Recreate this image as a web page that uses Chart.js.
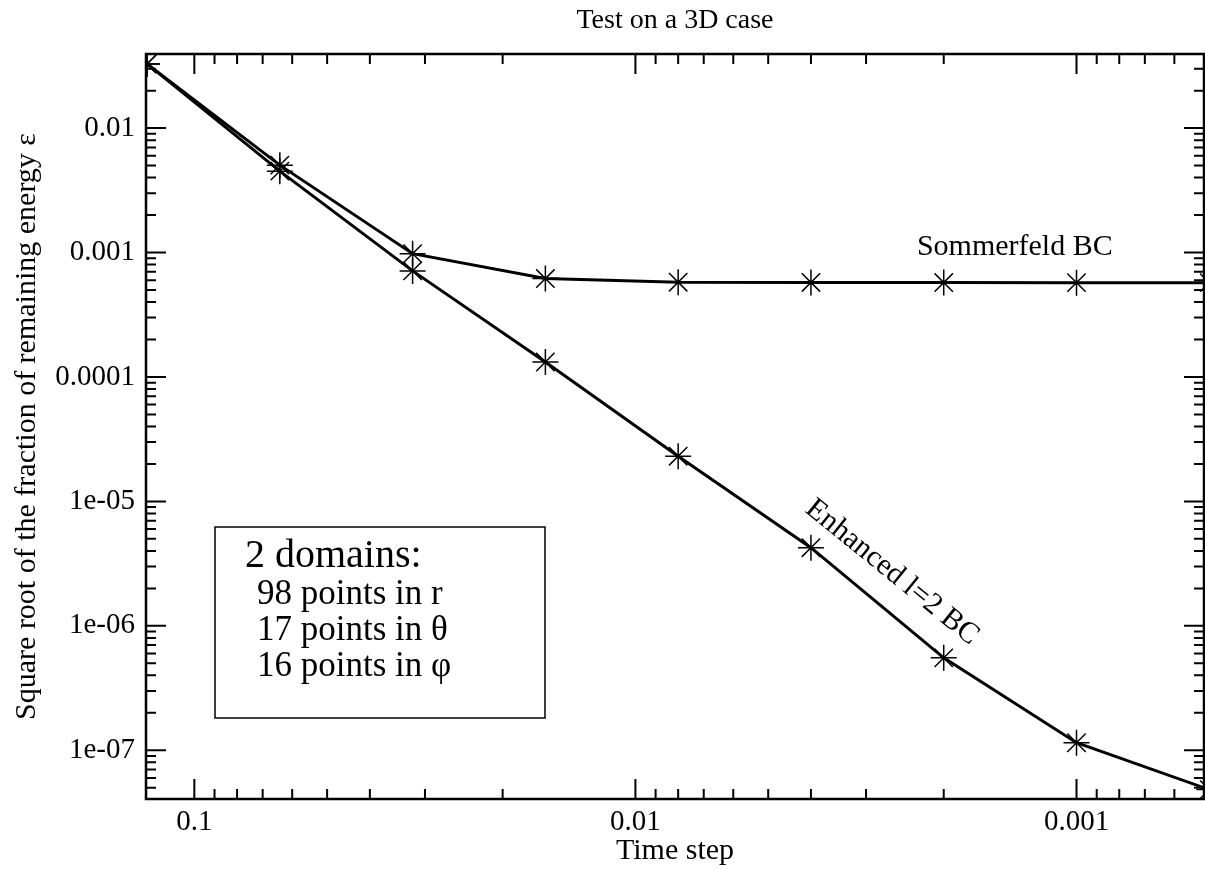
<!DOCTYPE html>
<html>
<head>
<meta charset="utf-8">
<title>Test on a 3D case</title>
<script src="https://cdn.jsdelivr.net/npm/chart.js@4.4.1/dist/chart.umd.min.js"></script>
<style>
  html, body { margin: 0; padding: 0; background: #fff; }
  #wrap { width: 1205px; height: 869px; }
</style>
</head>
<body>
<div id="wrap"><canvas id="chart" width="1205" height="869"></canvas></div>
<script>
// values
const timeSteps = [0.128, 0.064, 0.032, 0.016, 0.008, 0.004, 0.002, 0.001, 0.0005];
const sommerfeld = [0.0328, 0.00504, 0.00098, 0.000618, 0.000578, 0.000575, 0.000574, 0.000573, 0.000573];
const enhanced = [0.0328, 0.00451, 0.000712, 0.000132, 2.31e-5, 4.25e-6, 5.53e-7, 1.15e-7, 4.83e-8];

const xTickLabels = ['0.1', '0.01', '0.001'];
const yTickLabels = ['0.01', '0.001', '0.0001', '1e-05', '1e-06', '1e-07'];
const boxLines = ['2 domains:', '98 points in r', '17 points in θ', '16 points in φ'];

const FONT = '"Liberation Serif", "Times New Roman", serif';
Chart.defaults.font.family = FONT;
Chart.defaults.color = '#000';

function isDecade(v) {
  const l = Math.log10(v);
  return Math.abs(l - Math.round(l)) < 1e-9;
}

// decade + minor tick values between min and max
function logTicks(scale) {
  const out = [];
  const e0 = Math.floor(Math.log10(scale.min));
  const e1 = Math.ceil(Math.log10(scale.max));
  for (let e = e0; e <= e1; e++) {
    for (let k = 1; k <= 9; k++) {
      const v = k * Math.pow(10, e);
      if (v >= scale.min && v <= scale.max) out.push({ value: v });
    }
  }
  scale.ticks = out;
}

function labelFrom(list) {
  return (value) => {
    const hit = list.find(l => Math.abs(Number(l) / value - 1) < 1e-6);
    return hit || '';
  };
}

// inward ticks on all four sides, frame, text box, curve labels
const decorations = {
  id: 'decorations',
  afterDraw(chart) {
    const { ctx, chartArea: a, scales: { x, y } } = chart;
    ctx.save();
    ctx.strokeStyle = '#000';
    ctx.fillStyle = '#000';

    ctx.lineWidth = 2;
    ctx.beginPath();
    x.ticks.forEach(t => {
      const px = x.getPixelForValue(t.value);
      const len = isDecade(t.value) ? 20 : 10;
      ctx.moveTo(px, a.bottom); ctx.lineTo(px, a.bottom - len);
      ctx.moveTo(px, a.top); ctx.lineTo(px, a.top + len);
    });
    y.ticks.forEach(t => {
      const py = y.getPixelForValue(t.value);
      const len = isDecade(t.value) ? 20 : 10;
      ctx.moveTo(a.left, py); ctx.lineTo(a.left + len, py);
      ctx.moveTo(a.right, py); ctx.lineTo(a.right - len, py);
    });
    ctx.stroke();
    ctx.lineWidth = 2.5;
    ctx.strokeRect(a.left, a.top, a.right - a.left, a.bottom - a.top);

    // info box
    ctx.lineWidth = 1.5;
    ctx.strokeRect(215, 527, 330, 191);
    ctx.textAlign = 'left';
    ctx.textBaseline = 'alphabetic';
    ctx.font = '40px ' + FONT;
    ctx.fillText(boxLines[0], 245, 567);
    ctx.font = '35px ' + FONT;
    ctx.fillText(boxLines[1], 257, 604);
    ctx.fillText(boxLines[2], 257, 640);
    ctx.fillText(boxLines[3], 257, 676);

    // curve labels
    ctx.font = '30px ' + FONT;
    ctx.textAlign = 'center';
    ctx.fillText('Sommerfeld BC', x.getPixelForValue(0.00138), y.getPixelForValue(0.000953));
    ctx.translate(x.getPixelForValue(0.00262), y.getPixelForValue(2.69e-6));
    ctx.rotate(39 * Math.PI / 180);
    ctx.textBaseline = 'middle';
    ctx.fillText('Enhanced l=2 BC', 0, 0);
    ctx.restore();
  }
};

const lineStyle = {
  borderColor: '#000',
  backgroundColor: '#000',
  borderWidth: 3,
  pointStyle: 'star',
  pointRadius: 13,
  pointBorderWidth: 1.5,
  pointBorderColor: '#000',
  tension: 0,
  fill: false
};

new Chart(document.getElementById('chart'), {
  type: 'line',
  data: {
    datasets: [
      Object.assign({ label: 'Sommerfeld BC', data: timeSteps.map((t, i) => ({ x: t, y: sommerfeld[i] })) }, lineStyle),
      Object.assign({ label: 'Enhanced l=2 BC', data: timeSteps.map((t, i) => ({ x: t, y: enhanced[i] })) }, lineStyle)
    ]
  },
  options: {
    responsive: false,
    animation: false,
    devicePixelRatio: 1,
    layout: { autoPadding: false, padding: { left: 0, right: 1, top: 0, bottom: 0 } },
    plugins: {
      legend: { display: false },
      tooltip: { enabled: false },
      title: {
        display: true,
        fullSize: false,
        text: 'Test on a 3D case',
        font: { size: 28, weight: 'normal' },
        padding: { top: 4, bottom: 16.4 }
      }
    },
    scales: {
      x: {
        type: 'logarithmic',
        position: 'bottom',
        reverse: true,
        min: 0.000514,
        max: 0.1287,
        afterBuildTicks: logTicks,
        afterFit: s => { s.height = 70; s.paddingLeft = 0; s.paddingRight = 0; },
        grid: { display: false, drawTicks: false },
        border: { display: false },
        ticks: {
          autoSkip: false,
          maxRotation: 0,
          padding: 6,
          font: { size: 29 },
          callback: labelFrom(xTickLabels)
        },
        title: {
          display: true,
          text: 'Time step',
          font: { size: 30 },
          padding: { top: 0, bottom: 0 }
        }
      },
      y: {
        type: 'logarithmic',
        position: 'left',
        min: 4.06e-8,
        max: 0.0394,
        afterBuildTicks: logTicks,
        afterFit: s => { s.width = 146; s.paddingTop = 0; s.paddingBottom = 0; },
        grid: { display: false, drawTicks: false },
        border: { display: false },
        ticks: {
          autoSkip: false,
          padding: 11,
          font: { size: 29 },
          callback: labelFrom(yTickLabels)
        },
        title: {
          display: true,
          text: 'Square root of the fraction of remaining energy ε',
          font: { size: 30 },
          padding: { top: 9.5, bottom: 0 }
        }
      }
    }
  },
  plugins: [decorations]
});
</script>
</body>
</html>
